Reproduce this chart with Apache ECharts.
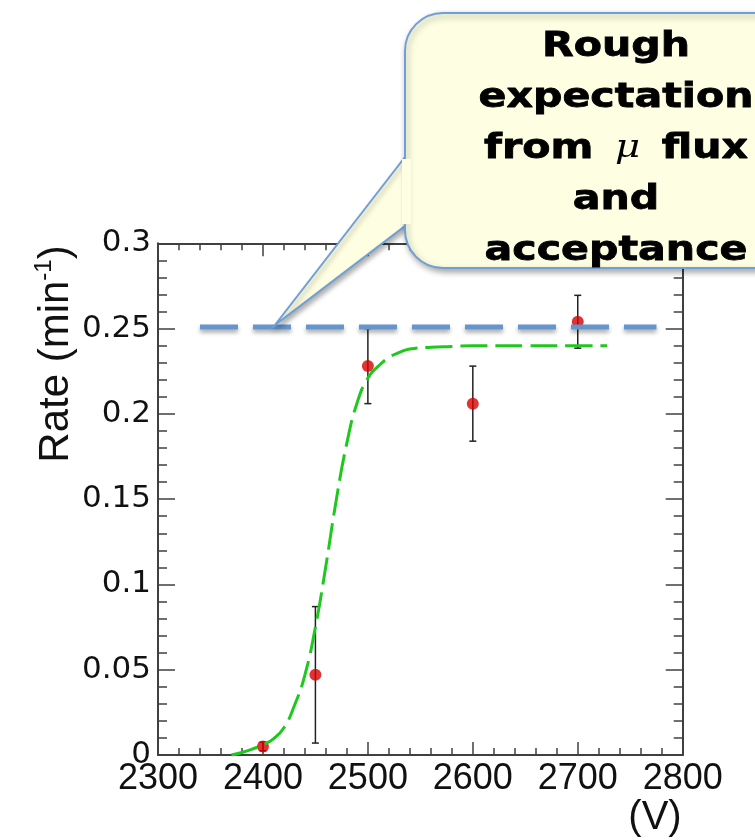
<!DOCTYPE html>
<html>
<head>
<meta charset="utf-8">
<script src="https://cdn.jsdelivr.net/npm/echarts@6/dist/echarts.min.js"></script>
<style>
  html, body { margin: 0; padding: 0; background: #fff; }
  #chart { width: 755px; height: 840px; }
</style>
</head>
<body>
<div id="chart"></div>
<script>
// Measured counting rate vs. high voltage, with statistical errors
const voltages = [2400, 2450, 2500, 2600, 2700];
const rates = [0.005, 0.047, 0.228, 0.206, 0.254];
const rateErrors = [0.0025, 0.040, 0.022, 0.022, 0.0155];

// Fitted turn-on curve
const fitVoltages = [2370, 2380, 2390, 2400, 2410, 2420, 2430, 2440, 2450, 2460, 2470, 2480, 2490, 2500, 2510, 2520, 2530, 2540, 2560, 2580, 2600, 2650, 2700, 2728];
const fitRates = [0.0, 0.0015, 0.0035, 0.006, 0.0095, 0.016, 0.029, 0.047, 0.075, 0.111, 0.150, 0.183, 0.207, 0.221, 0.228, 0.233, 0.236, 0.238, 0.239, 0.2395, 0.24, 0.24, 0.24, 0.24];

// Expected plateau rate from muon flux and acceptance
const expectVoltages = [2340, 2775];
const expectRate = 0.251;

// Axis ticks
const xTicks = [2300, 2400, 2500, 2600, 2700, 2800];
const yTicks = [0, 0.05, 0.1, 0.15, 0.2, 0.25, 0.3];

// Callout text
const calloutLines = ['Rough', 'expectation', 'from μ flux', 'and', 'acceptance'];

const axisColor = '#404040';
const boxFill = '#fefee2';
const boxStroke = '#6f9fd4';

const chart = echarts.init(document.getElementById('chart'), null, { renderer: 'canvas' });

function xAxisDef(position, labels) {
  return {
    type: 'value',
    position: position,
    min: xTicks[0],
    max: xTicks[xTicks.length - 1],
    interval: xTicks[1] - xTicks[0],
    axisLine: { show: true, onZero: false, lineStyle: { color: axisColor, width: 2 } },
    axisTick: { show: true, inside: true, length: 13, lineStyle: { color: axisColor, width: 1.5 } },
    minorTick: { show: true, splitNumber: 5, length: 7, lineStyle: { color: axisColor, width: 1.5 } },
    splitLine: { show: false },
    minorSplitLine: { show: false },
    axisLabel: {
      show: labels,
      margin: 6,
      fontSize: 36,
      fontFamily: '"Liberation Sans", Arial, sans-serif',
      color: '#111',
      showMinLabel: true,
      showMaxLabel: true,
      formatter: v => String(v)
    }
  };
}

function yAxisDef(position, labels) {
  return {
    type: 'value',
    position: position,
    min: yTicks[0],
    max: yTicks[yTicks.length - 1],
    interval: yTicks[1] - yTicks[0],
    axisLine: { show: true, onZero: false, lineStyle: { color: axisColor, width: 2 } },
    axisTick: { show: true, inside: true, length: 17, lineStyle: { color: axisColor, width: 1.5 } },
    minorTick: { show: true, splitNumber: 5, length: 9, lineStyle: { color: axisColor, width: 1.5 } },
    splitLine: { show: false },
    minorSplitLine: { show: false },
    axisLabel: {
      show: labels,
      margin: 7,
      fontSize: 31,
      fontFamily: '"DejaVu Sans", sans-serif',
      color: '#111',
      showMinLabel: true,
      showMaxLabel: true,
      formatter: v => String(+v.toFixed(2))
    }
  };
}

const calloutFont = 'bold 34px "DejaVu Sans"';
const calloutBaseY = 47;
const calloutStep = 51;

const calloutTexts = calloutLines.map((line, i) => {
  const hasMu = line.indexOf('μ') >= 0;
  return {
    type: 'text',
    x: 0,
    y: calloutBaseY + i * calloutStep,
    z: 103,
    style: {
      text: hasMu ? line.replace('μ', '{m|μ}') : line,
      font: calloutFont,
      fill: '#000',
      stroke: '#000',
      lineWidth: 0.8,
      align: 'center',
      textAlign: 'center',
      verticalAlign: 'middle',
      textVerticalAlign: 'middle',
      rich: {
        m: {
          fontFamily: '"DejaVu Serif", serif',
          fontStyle: 'italic',
          fontWeight: 'normal',
          fontSize: 32,
          padding: [0, 6, 0, 6],
          fill: '#000',
          color: '#000',
          lineWidth: 0
        }
      }
    }
  };
});

const option = {
  animation: false,
  backgroundColor: '#fff',
  grid: { left: 158, top: 243.3, right: 72.3, bottom: 85, containLabel: false },
  xAxis: [xAxisDef('bottom', true), xAxisDef('top', false)],
  yAxis: [yAxisDef('left', true), yAxisDef('right', false)],
  series: [
    {
      name: 'errors',
      type: 'custom',
      z: 2,
      data: voltages.map((v, i) => [v, rates[i], rateErrors[i]]),
      renderItem: function (params, api) {
        const x = api.value(0), y = api.value(1), e = api.value(2);
        const top = api.coord([x, y + e]);
        const bot = api.coord([x, y - e]);
        const hw = 3.5;
        const style = { stroke: '#222', lineWidth: 1.5 };
        return {
          type: 'group',
          children: [
            { type: 'line', shape: { x1: top[0], y1: top[1], x2: bot[0], y2: bot[1] }, style: style },
            { type: 'line', shape: { x1: top[0] - hw, y1: top[1], x2: top[0] + hw, y2: top[1] }, style: style },
            { type: 'line', shape: { x1: bot[0] - hw, y1: bot[1], x2: bot[0] + hw, y2: bot[1] }, style: style }
          ]
        };
      }
    },
    {
      name: 'rate',
      type: 'scatter',
      z: 3,
      symbol: 'circle',
      symbolSize: 12,
      itemStyle: { color: '#d80000' },
      data: voltages.map((v, i) => [v, rates[i]])
    },
    {
      name: 'fit',
      type: 'line',
      z: 4,
      showSymbol: false,
      smooth: 0.5,
      lineStyle: { color: '#1fc81f', width: 3, type: [27, 8] },
      data: fitVoltages.map((v, i) => [v, fitRates[i]])
    },
    {
      name: 'expectation',
      type: 'line',
      z: 5,
      showSymbol: false,
      clip: false,
      lineStyle: {
        color: '#6495cd', width: 5, type: [38, 15],
        shadowBlur: 4, shadowColor: 'rgba(0,0,0,0.35)', shadowOffsetY: 3
      },
      data: expectVoltages.map(v => [v, expectRate])
    }
  ],
  graphic: [
    {
      type: 'text',
      x: 56,
      y: 354,
      rotation: Math.PI / 2,
      z: 50,
      style: {
        text: '{a|Rate (min}{s|-1}{a|)}',
        align: 'center',
        textAlign: 'center',
        verticalAlign: 'middle',
        textVerticalAlign: 'middle',
        fill: '#111',
        rich: {
          a: { fontSize: 42, fontFamily: '"Liberation Sans", Arial', lineHeight: 48, fill: '#111', color: '#111' },
          s: { fontSize: 24, fontFamily: '"Liberation Sans", Arial', lineHeight: 24, verticalAlign: 'top', fill: '#111', color: '#111' }
        }
      }
    },
    {
      type: 'text',
      x: 655,
      y: 818,
      z: 50,
      style: {
        text: '(V)',
        font: '40px "Liberation Sans", Arial',
        fill: '#111',
        align: 'center',
        textAlign: 'center',
        verticalAlign: 'middle',
        textVerticalAlign: 'middle'
      }
    },
    {
      type: 'polygon',
      z: 100,
      shape: { points: [[405, 157], [275, 325], [405, 226]] },
      style: { fill: boxFill, stroke: boxStroke, lineWidth: 2,
               shadowBlur: 5, shadowOffsetX: 2, shadowOffsetY: 3, shadowColor: 'rgba(0,0,0,0.3)' }
    },
    {
      type: 'rect',
      z: 101,
      shape: { x: 405, y: 13, width: 420, height: 255, r: 38 },
      style: { fill: boxFill, stroke: boxStroke, lineWidth: 2,
               shadowBlur: 6, shadowOffsetX: 2, shadowOffsetY: 3, shadowColor: 'rgba(0,0,0,0.35)' }
    },
    {
      type: 'rect',
      z: 102,
      shape: { x: 402, y: 159, width: 9, height: 65 },
      style: { fill: boxFill }
    },
    {
      type: 'group',
      x: 616,
      y: 0,
      scaleX: 1.21,
      z: 103,
      children: calloutTexts
    }
  ]
};

chart.setOption(option);
</script>
</body>
</html>
